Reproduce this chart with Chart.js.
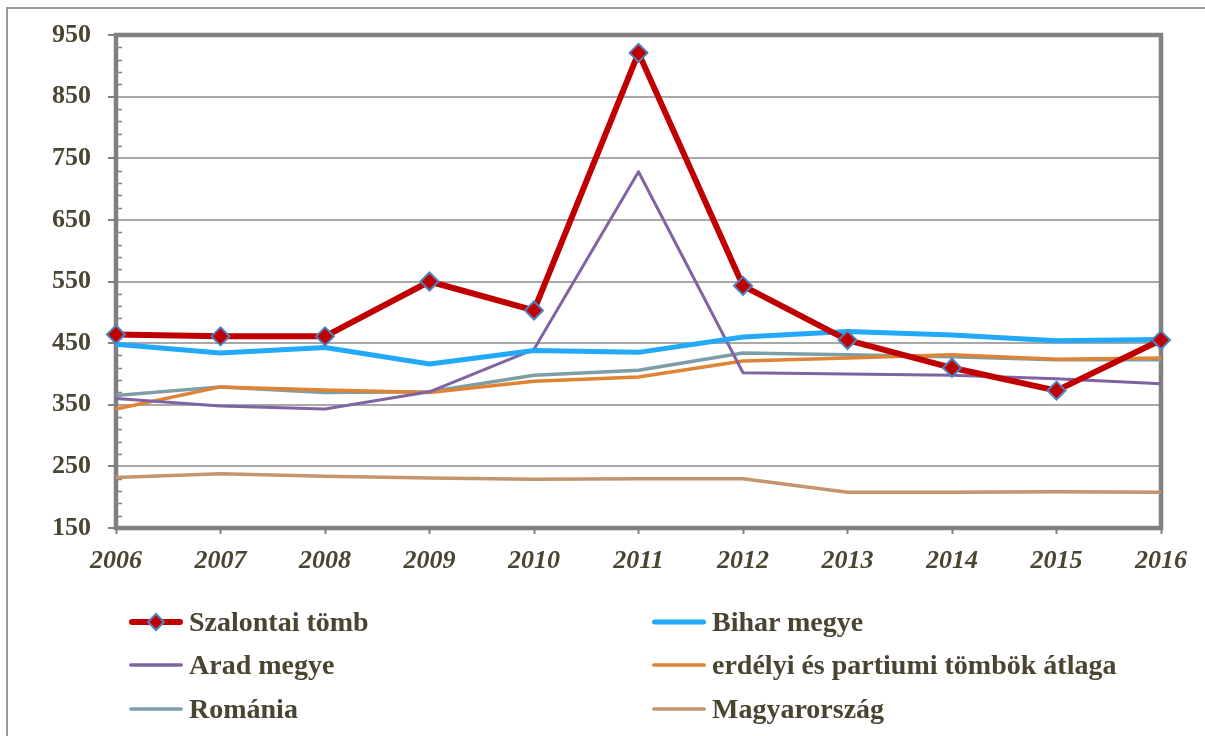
<!DOCTYPE html>
<html>
<head>
<meta charset="utf-8">
<script src="https://cdn.jsdelivr.net/npm/chart.js@4.4.1/dist/chart.umd.min.js"></script>
<style>
  html, body { margin: 0; padding: 0; background: #fff; }
  #wrap { position: relative; width: 1205px; height: 736px; overflow: hidden; }
  #frame { position: absolute; left: 6px; top: 7px; width: 1300px; height: 800px; border-left: 2px solid #9a9a9a; border-top: 2px solid #9a9a9a; }
  canvas { position: absolute; left: 0; top: 0; }
  .lg { position: absolute; font-family: "Liberation Serif", "Times New Roman", serif; font-weight: bold; font-size: 28px; line-height: 28px; color: #4a4530; white-space: nowrap; }
  .sw { position: absolute; }
</style>
</head>
<body>
<div id="wrap">
  <div id="frame"></div>
  <canvas id="c" width="1205" height="736"></canvas>
  <div id="legend"></div>
</div>
<script>
const years = ['2006','2007','2008','2009','2010','2011','2012','2013','2014','2015','2016'];
const yTicks = [150, 250, 350, 450, 550, 650, 750, 850, 950];
const szalontai = [464, 461, 461, 550, 503, 921, 543, 455, 410, 373, 455];
const bihar = [448, 434, 443, 416, 438, 435, 460, 469, 463, 454, 456];
const arad = [360, 348, 343, 371, 440, 728, 402, 400, 398, 392, 384];
const erdelyi = [343, 379, 374, 370, 388, 395, 421, 426, 431, 424, 426];
const romania = [365, 379, 370, 371, 398, 406, 434, 431, 428, 423, 423];
const magyar = [232, 238, 234, 231, 229, 230, 230, 208, 208, 209, 208];
const seriesNames = ['Szalontai tömb', 'Bihar megye', 'Arad megye', 'erdélyi és partiumi tömbök átlaga', 'Románia', 'Magyarország'];
const colors = ['#c00000', '#22a9f7', '#8064a2', '#df8434', '#7c9ea6', '#c4956c'];

const textColor = '#4a4530';
const fontFam = '"Liberation Serif", "Times New Roman", serif';

const frameMinor = {
  id: 'frameMinor',
  beforeDatasetsDraw(chart) {
    const ctx = chart.ctx, a = chart.chartArea, y = chart.scales.y;
    ctx.save();
    ctx.strokeStyle = '#808080';
    ctx.lineWidth = 1.5;
    for (let v = yTicks[0]; v < yTicks[yTicks.length - 1]; v += 20) {
      if ((v - yTicks[0]) % 100 === 0) continue;
      const py = Math.round(y.getPixelForValue(v)) + 0.5;
      ctx.beginPath();
      ctx.moveTo(a.left, py);
      ctx.lineTo(a.left + 6, py);
      ctx.stroke();
    }
    ctx.strokeStyle = '#808080';
    ctx.lineWidth = 4.5;
    ctx.strokeRect(a.left, a.top, a.right - a.left, a.bottom - a.top);
    ctx.restore();
  }
};

const mk = (i, data, width, extra) => Object.assign({
  label: seriesNames[i], data: data, borderColor: colors[i], backgroundColor: colors[i],
  borderWidth: width, pointRadius: 0, tension: 0, fill: false, borderCapStyle: 'butt', borderJoinStyle: 'round'
}, extra || {});

new Chart(document.getElementById('c'), {
  type: 'line',
  data: {
    labels: years,
    datasets: [
      mk(0, szalontai, 6, { pointStyle: 'rectRot', pointRadius: 9, pointHoverRadius: 9, pointBackgroundColor: '#c00000', pointBorderColor: '#4f81bd', pointBorderWidth: 2, clip: false }),
      mk(1, bihar, 5),
      mk(2, arad, 3),
      mk(3, erdelyi, 3.5),
      mk(4, romania, 3.5),
      mk(5, magyar, 3.5)
    ]
  },
  options: {
    responsive: false,
    animation: false,
    devicePixelRatio: 1,
    layout: { padding: { top: 35, right: 44, left: 0, bottom: 0 } },
    plugins: { legend: { display: false }, tooltip: { enabled: false } },
    scales: {
      x: {
        type: 'category',
        offset: false,
        afterFit: s => { s.height = 208; },
        grid: { drawOnChartArea: false, drawTicks: true, tickLength: 6, tickColor: '#808080', tickWidth: 2 },
        border: { display: false },
        ticks: { color: textColor, padding: 12, maxRotation: 0, autoSkip: false,
          font: { family: fontFam, size: 26, weight: 'bold', style: 'italic' } }
      },
      y: {
        min: 150, max: 950,
        afterFit: s => { s.width = 116; },
        afterBuildTicks: s => { s.ticks = yTicks.map(v => ({ value: v })); },
        grid: { color: '#a8a8a8', lineWidth: 2, drawTicks: true, tickLength: 8, tickColor: '#808080', tickWidth: 2 },
        border: { display: false },
        ticks: { color: textColor, padding: 17,
          font: { family: fontFam, size: 26, weight: 'bold' } }
      }
    }
  },
  plugins: [frameMinor]
});

const legendPos = [
  { x: 129, y: 622, w: 6 }, { x: 652, y: 622, w: 5 },
  { x: 129, y: 665, w: 3.5 }, { x: 652, y: 665, w: 3.5 },
  { x: 129, y: 709, w: 3.5 }, { x: 652, y: 709, w: 3.5 }
];
const lg = document.getElementById('legend');
seriesNames.forEach((name, i) => {
  const p = legendPos[i];
  const svgNS = 'http://www.w3.org/2000/svg';
  const svg = document.createElementNS(svgNS, 'svg');
  svg.setAttribute('width', '60'); svg.setAttribute('height', '24');
  svg.setAttribute('class', 'sw');
  svg.style.left = p.x - 2 + 'px'; svg.style.top = (p.y - 12) + 'px';
  const ln = document.createElementNS(svgNS, 'line');
  ln.setAttribute('x1', 2 + p.w / 2); ln.setAttribute('x2', 56 - p.w / 2);
  ln.setAttribute('y1', 12); ln.setAttribute('y2', 12);
  ln.setAttribute('stroke', colors[i]); ln.setAttribute('stroke-width', p.w);
  ln.setAttribute('stroke-linecap', 'round');
  svg.appendChild(ln);
  if (i === 0) {
    const d = document.createElementNS(svgNS, 'polygon');
    d.setAttribute('points', '29,4 37,12 29,20 21,12');
    d.setAttribute('fill', '#c00000'); d.setAttribute('stroke', '#4f81bd'); d.setAttribute('stroke-width', '2');
    svg.appendChild(d);
  }
  lg.appendChild(svg);
  const t = document.createElement('div');
  t.className = 'lg';
  t.textContent = name;
  t.style.left = (p.x + 60) + 'px';
  t.style.top = (p.y - 14.5) + 'px';
  lg.appendChild(t);
});
</script>
</body>
</html>
